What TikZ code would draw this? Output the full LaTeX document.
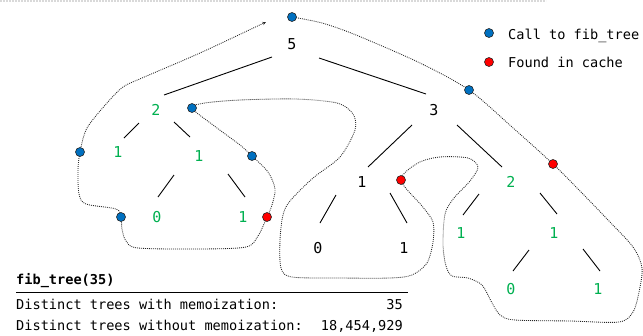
\documentclass[tikz,border=0pt]{standalone}
\usepackage{fontspec}
\setmonofont{DejaVu Sans Mono}
\usetikzlibrary{arrows.meta}
\definecolor{callblue}{RGB}{0,112,192}
\definecolor{cachered}{RGB}{255,0,0}
\definecolor{fibgreen}{RGB}{0,176,80}

\begin{document}
\begin{tikzpicture}[x=1pt,y=-1pt,
  lbl/.style={font=\fontsize{15}{15}\selectfont\ttfamily, inner sep=0pt},
  fresh/.style={lbl, text=fibgreen},
  edge/.style={line width=0.9pt},
  calldot/.style={circle, fill=callblue, draw=black!85, line width=0.6pt,
                  minimum size=9pt, inner sep=0pt},
  cachedot/.style={calldot, fill=cachered},
  trace/.style={dash pattern=on 0.9pt off 1.1pt, line width=0.85pt, black!85},
  info/.style={font=\fontsize{13.6}{14}\selectfont\ttfamily, inner sep=0pt}]

\useasboundingbox (0,0) rectangle (643,335);

% faint border at the top
\draw[gray!30, line width=1.8pt, dash pattern=on 2.2pt off 0.8pt] (0,1) -- (546,1);

% tree labels
\node[lbl]   (n5)  at (292,44)  {5};
\node[fresh] (n2a) at (156,110) {2};
\node[lbl]   (n3)  at (434,110) {3};
\node[fresh] (n1a) at (118,152) {1};
\node[fresh] (n1b) at (199,156) {1};
\node[fresh] (n0a) at (157,217) {0};
\node[fresh] (n1c) at (243,217) {1};
\node[lbl]   (n1d) at (362,182) {1};
\node[fresh] (n2b) at (511,182) {2};
\node[lbl]   (n0b) at (318,248) {0};
\node[lbl]   (n1e) at (404,248) {1};
\node[fresh] (n1f) at (461,233) {1};
\node[fresh] (n1g) at (554,233) {1};
\node[fresh] (n0c) at (511,289) {0};
\node[fresh] (n1h) at (598,289) {1};

% tree branches
\draw[edge] ([shift={(-20,13)}]n5.center)  -- ([shift={(8,-15)}]n2a.center);
\draw[edge] ([shift={(27,14)}]n5.center)   -- ([shift={(-8,-16)}]n3.center);
\draw[edge] ([shift={(-17,13)}]n2a.center) -- ([shift={(6,-14)}]n1a.center);
\draw[edge] ([shift={(18,12)}]n2a.center)  -- ([shift={(-9,-19)}]n1b.center);
\draw[edge] ([shift={(-25,19)}]n1b.center) -- ([shift={(1,-20)}]n0a.center);
\draw[edge] ([shift={(29,18)}]n1b.center)  -- ([shift={(2,-20)}]n1c.center);
\draw[edge] ([shift={(-22,15)}]n3.center)  -- ([shift={(6,-15)}]n1d.center);
\draw[edge] ([shift={(23,15)}]n3.center)   -- ([shift={(-9,-15)}]n2b.center);
\draw[edge] ([shift={(-26,13)}]n1d.center) -- ([shift={(2,-25)}]n0b.center);
\draw[edge] ([shift={(28,11)}]n1d.center)  -- ([shift={(3,-25)}]n1e.center);
\draw[edge] ([shift={(-32,12)}]n2b.center) -- ([shift={(2,-18)}]n1f.center);
\draw[edge] ([shift={(29,11)}]n2b.center)  -- ([shift={(3,-19)}]n1g.center);
\draw[edge] ([shift={(-25,17)}]n1g.center) -- ([shift={(2,-18)}]n0c.center);
\draw[edge] ([shift={(29,16)}]n1g.center)  -- ([shift={(2,-18)}]n1h.center);

% call points along the evaluation order
\coordinate (c5)   at (292,17);
\coordinate (c3)   at (469,90);
\coordinate (h2)   at (553,164);
\coordinate (h1)   at (401,180);
\coordinate (c2)   at (192,108);
\coordinate (c1)   at (252,156);
\coordinate (h1b)  at (267,217);
\coordinate (c0)   at (121,217);
\coordinate (c1l)  at (80,152);
\coordinate (tail) at (266,22);

% evaluation trace
\draw[trace, -{Stealth[length=3.6pt,width=3.4pt]}] plot[smooth, tension=0.5] coordinates {
  (c5) (322,23) (356,35) (420,63) (c3) (512,127) (h2)
  (580,191) (608,220) (633,247) (642,268) (639,292) (633,312) (619,322)
  (570,321) (515,320) (500,315) (491,301) (482,285) (468,278) (452,276)
  (446,266) (443,245) (445,214) (454,198) (470,181) (478,167) (468,158)
  (440,157) (418,163) (h1)
  (422,206) (433,222) (433,242) (427,263) (412,275) (390,278) (340,278)
  (292,277) (281,268) (280,240) (283,215) (290,201) (313,178) (340,157)
  (355,130) (353,114) (337,103) (295,99) (240,100) (205,103) (c2)
  (213,125) (240,145) (c1) (268,172) (275,189) (272,205) (h1b)
  (258,236) (246,247) (200,249) (138,248) (126,241) (122,229) (c0)
  (116,209) (86,204) (79,194) (78,170) (c1l)
  (87,128) (107,103) (123,87) (142,78) (200,53) (tail)};

\node[calldot]  at (c5)  {};
\node[calldot]  at (c3)  {};
\node[cachedot] at (h2)  {};
\node[cachedot] at (h1)  {};
\node[calldot]  at (c2)  {};
\node[calldot]  at (c1)  {};
\node[cachedot] at (h1b) {};
\node[calldot]  at (c0)  {};
\node[calldot]  at (c1l) {};

% legend
\node[calldot]  (lg1) at (489,33) {};
\node[cachedot] (lg2) at (489,62) {};
\node[info, anchor=base west] (lt1) at (508,39) {Call to fib\_tree};
\node[info, anchor=base west] (lt2) at (508,67) {Found in cache};

% summary
\node[info, anchor=base west, font=\fontsize{13.6}{14}\selectfont\ttfamily\bfseries] (title) at (16,284) {fib\_tree(35)};
\coordinate (rl) at (16,292);
\coordinate (rr) at (408,292);
\draw[line width=0.9pt] (rl) -- (rr);
\node[info, anchor=base west] (s1) at (16,309) {Distinct trees with memoization:};
\node[info, anchor=base east] (v1) at (403,309) {35};
\node[info, anchor=base west] (s2) at (16,330) {Distinct trees without memoization:};
\node[info, anchor=base east] (v2) at (403,330) {18,454,929};
\end{tikzpicture}
\end{document}
